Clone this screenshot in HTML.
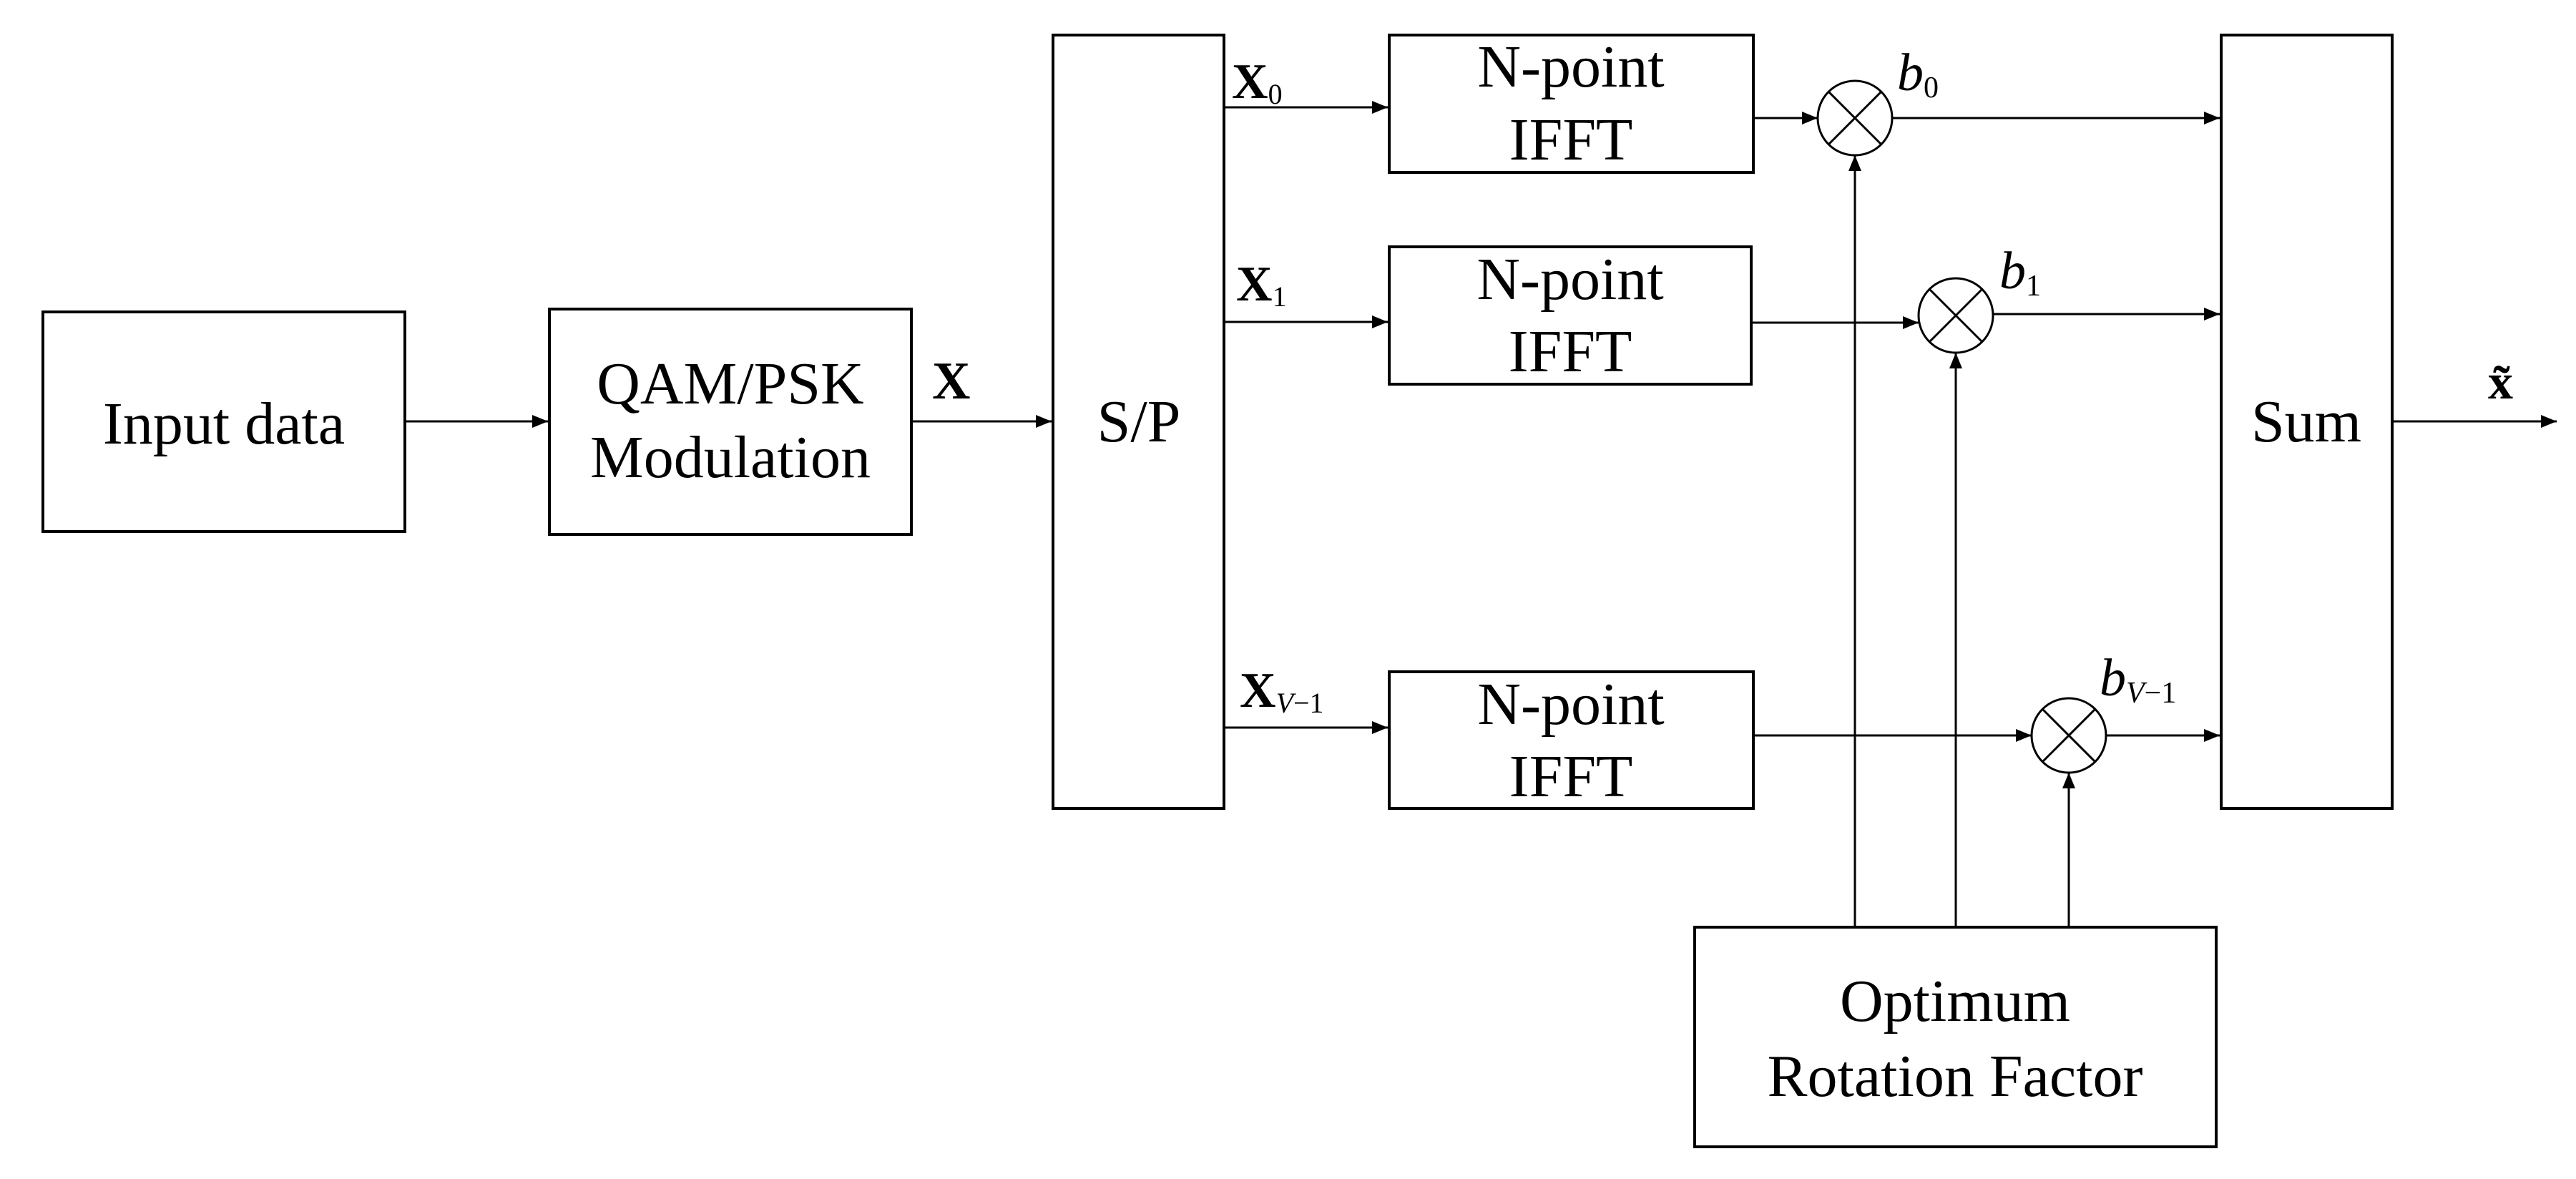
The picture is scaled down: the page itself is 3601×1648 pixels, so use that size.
<!DOCTYPE html>
<html><head><meta charset="utf-8"><style>
html,body{margin:0;padding:0;background:#fff;}
svg{display:block;}
text{font-family:"Liberation Serif",serif;fill:#000;}
</style></head><body>
<svg width="3601" height="1648" viewBox="0 0 3601 1648" xmlns="http://www.w3.org/2000/svg">
<defs>
<marker id="a" markerWidth="22" markerHeight="18" refX="22" refY="9" orient="auto" markerUnits="userSpaceOnUse">
<path d="M0,0 L22,9 L0,18 z" fill="#000"/>
</marker>
</defs>
<g fill="none" stroke="#000" stroke-width="4">
<rect x="60" y="436" width="506" height="307"/>
<rect x="768" y="432" width="506" height="315"/>
<rect x="1472" y="49" width="239" height="1081"/>
<rect x="1942" y="49" width="509" height="192"/>
<rect x="1942" y="345" width="506" height="192"/>
<rect x="1942" y="939" width="509" height="191"/>
<rect x="3105" y="49" width="239" height="1081"/>
<rect x="2369" y="1296" width="729" height="307"/>
</g>
<g fill="none" stroke="#000" stroke-width="3">
<circle cx="2593" cy="165" r="52"/>
<line x1="2556" y1="128" x2="2630" y2="202"/><line x1="2630" y1="128" x2="2556" y2="202"/>
<circle cx="2734" cy="441" r="52"/>
<line x1="2697" y1="404" x2="2771" y2="478"/><line x1="2771" y1="404" x2="2697" y2="478"/>
<circle cx="2892" cy="1028" r="52"/>
<line x1="2855" y1="991" x2="2929" y2="1065"/><line x1="2929" y1="991" x2="2855" y2="1065"/>
<line x1="566" y1="589" x2="766" y2="589" marker-end="url(#a)"/>
<line x1="1274" y1="589" x2="1470" y2="589" marker-end="url(#a)"/>
<line x1="1711" y1="150" x2="1940" y2="150" marker-end="url(#a)"/>
<line x1="1711" y1="450" x2="1940" y2="450" marker-end="url(#a)"/>
<line x1="1711" y1="1017" x2="1940" y2="1017" marker-end="url(#a)"/>
<line x1="2451" y1="165" x2="2541" y2="165" marker-end="url(#a)"/>
<line x1="2448" y1="451" x2="2682" y2="451" marker-end="url(#a)"/>
<line x1="2451" y1="1028" x2="2840" y2="1028" marker-end="url(#a)"/>
<line x1="2645" y1="165" x2="3103" y2="165" marker-end="url(#a)"/>
<line x1="2786" y1="439" x2="3103" y2="439" marker-end="url(#a)"/>
<line x1="2944" y1="1028" x2="3103" y2="1028" marker-end="url(#a)"/>
<line x1="3344" y1="589" x2="3574" y2="589" marker-end="url(#a)"/>
<line x1="2593" y1="1296" x2="2593" y2="217" marker-end="url(#a)"/>
<line x1="2734" y1="1296" x2="2734" y2="493" marker-end="url(#a)"/>
<line x1="2892" y1="1296" x2="2892" y2="1080" marker-end="url(#a)"/>
</g>
<g font-size="84" text-anchor="middle">
<text x="313" y="620">Input data</text>
<text x="1021" y="564">QAM/PSK</text>
<text x="1021" y="667">Modulation</text>
<text x="1592" y="617">S/P</text>
<text x="3224" y="617">Sum</text>
<text x="2196" y="121">N-point</text>
<text x="2196" y="223">IFFT</text>
<text x="2195" y="418">N-point</text>
<text x="2195" y="519">IFFT</text>
<text x="2196" y="1012">N-point</text>
<text x="2196" y="1113">IFFT</text>
<text x="2733" y="1427">Optimum</text>
<text x="2733" y="1532">Rotation Factor</text>
</g>
<text x="1303" y="557" font-size="74" font-weight="bold">X</text>
<text x="1722" y="137" font-size="70" font-weight="bold">X<tspan font-size="40" font-weight="normal" dy="8">0</tspan></text>
<text x="1728" y="420" font-size="70" font-weight="bold">X<tspan font-size="40" font-weight="normal" dy="8">1</tspan></text>
<text x="1733" y="988" font-size="70" font-weight="bold">X<tspan font-size="40" font-weight="normal" font-style="italic" dy="8">V</tspan><tspan font-size="40" font-weight="normal" dy="0">−1</tspan></text>
<text x="2652" y="126" font-size="74" font-style="italic">b<tspan font-size="42" font-style="normal" dy="10">0</tspan></text>
<text x="2795" y="403" font-size="74" font-style="italic">b<tspan font-size="42" font-style="normal" dy="10">1</tspan></text>
<text x="2935" y="972" font-size="74" font-style="italic">b<tspan font-size="42" dy="10">V</tspan><tspan font-size="42" font-style="normal">−1</tspan></text>
<text x="3478" y="557" font-size="70" font-weight="bold">x̃</text>
</svg>
</body></html>
